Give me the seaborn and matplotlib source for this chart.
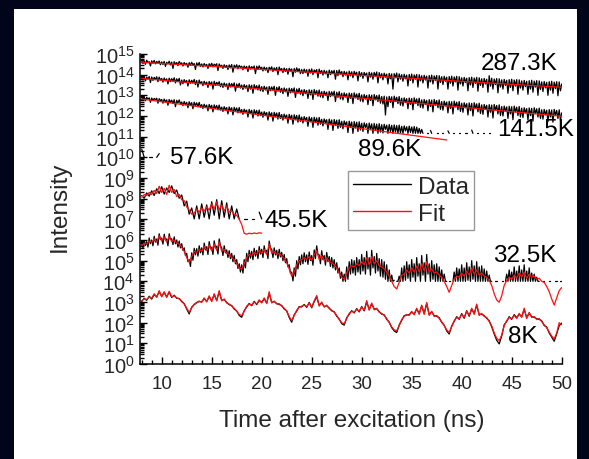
import numpy as np
import pandas as pd
import matplotlib
matplotlib.use("Agg")
import matplotlib.pyplot as plt
from matplotlib.lines import Line2D
from matplotlib.patches import Rectangle
from matplotlib.ticker import LogLocator, MultipleLocator, NullFormatter, FixedLocator
import seaborn as sns

nan = np.nan

# Time base of the recorded traces (ns)
T0 = 8.0
DT_FINE = 0.125   # densely recorded traces
DT = 0.25         # remaining traces and the oscillating fits

# log10(intensity), one sample every DT_FINE starting at T0
data_287 = [
    14.68, 14.54, 14.66, 14.50, 14.70, 14.58, 14.63, 14.42, 14.67, 14.55, 14.69, 14.52, 14.64, 14.57, 14.66, 14.48,
    14.62, 14.49, 14.64, 14.40, 14.60, 14.52, 14.65, 14.47, 14.61, 14.30, 14.63, 14.50, 14.59, 14.44, 14.64, 14.53,
    14.57, 14.42, 14.59, 14.48, 14.55, 14.36, 14.58, 14.45, 14.60, 14.47, 14.54, 14.25, 14.57, 14.44, 14.59, 14.40,
    14.52, 14.37, 14.54, 14.42, 14.50, 14.30, 14.53, 14.40, 14.55, 14.38, 14.51, 14.44, 14.53, 14.20, 14.52, 14.39,
    14.46, 14.30, 14.48, 14.36, 14.45, 14.25, 14.47, 14.33, 14.49, 14.12, 14.46, 14.34, 14.48, 14.28, 14.45, 14.35,
    14.41, 14.24, 14.42, 14.30, 14.40, 14.15, 14.43, 14.27, 14.39, 14.30, 14.42, 14.05, 14.41, 14.25, 14.43, 14.28,
    14.36, 14.18, 14.37, 14.22, 14.34, 14.10, 14.36, 14.24, 14.38, 14.15, 14.33, 14.20, 14.35, 14.00, 14.37, 14.21,
    14.30, 14.10, 14.32, 14.16, 14.29, 14.02, 14.31, 14.18, 14.28, 13.90, 14.30, 14.12, 14.33, 14.15, 14.29, 14.05,
    14.25, 14.05, 14.27, 14.10, 14.24, 13.92, 14.26, 14.08, 14.28, 14.00, 14.23, 14.12, 14.25, 13.85, 14.27, 14.06,
    14.20, 13.98, 14.21, 14.04, 14.18, 13.85, 14.22, 14.00, 14.19, 14.06, 14.21, 13.78, 14.20, 13.95, 14.23, 14.02,
    14.15, 13.90, 14.16, 13.98, 14.13, 13.75, 14.17, 13.94, 14.14, 13.85, 14.16, 14.00, 14.12, 13.70, 14.15, 13.92,
    14.10, 13.82, 14.11, 13.95, 14.08, 13.65, 14.12, 13.88, 14.09, 13.78, 14.11, 13.92, 14.13, 13.60, 14.10, 13.85,
    14.05, 13.75, 14.07, 13.88, 14.03, 13.55, 14.06, 13.80, 14.04, 13.30, 14.05, 13.85, 14.08, 13.65, 14.04, 13.78,
    14.00, 13.68, 14.02, 13.80, 13.98, 13.45, 14.01, 13.72, 14.03, 13.60, 13.99, 13.78, 14.01, 13.40, 14.00, 13.70,
    13.95, 13.60, 13.97, 13.74, 13.93, 13.35, 13.96, 13.65, 13.98, 13.55, 13.94, 13.72, 13.96, 13.30, 13.95, 13.62,
    13.90, 13.52, 13.92, 13.68, 13.88, 13.30, 13.91, 13.58, 13.93, 13.45, 13.89, 13.65, 13.92, 13.25, 13.90, 13.55,
    13.85, 13.45, 13.87, 13.62, 13.83, 13.22, 13.86, 13.50, 13.88, 13.38, 13.84, 13.58, 13.87, 13.20, 13.85, 13.48,
    13.80, 13.38, 13.82, 13.55, 13.78, 13.15, 13.95, 13.44, 13.83, 13.30, 13.79, 13.52, 13.81, 13.12, 13.80, 13.40,
    13.75, 13.30, 13.77, 13.48, 13.73, 13.10, 13.76, 13.38, 13.78, 13.22, 13.74, 13.45, 13.76, 13.05, 13.75, 13.35,
    13.70, 13.25, 13.72, 13.42, 13.68, 13.05, 13.71, 13.30, 13.73, 13.15, 13.69, 13.40, 13.71, 13.00, 13.70, 13.28,
    13.65, 13.18, 13.67, 13.36, 13.63, 13.00, 13.66, 13.25, 13.68, 13.10, 13.64, 13.33, 13.66, 12.98, 13.65, 13.22,
    13.55,
]

data_141 = [
    13.90, 13.74, 13.92, 13.70, 13.88, 13.78, 13.91, 13.62, 13.89, 13.72, 13.87, 13.76, 13.90, 13.66, 13.88, 13.73,
    13.82, 13.64, 13.84, 13.70, 13.80, 13.55, 13.83, 13.66, 13.81, 13.69, 13.85, 13.60, 13.80, 13.67, 13.82, 13.50,
    13.74, 13.56, 13.76, 13.62, 13.72, 13.45, 13.75, 13.58, 13.73, 13.60, 13.77, 13.52, 13.72, 13.40, 13.74, 13.57,
    13.66, 13.47, 13.68, 13.53, 13.64, 13.38, 13.67, 13.50, 13.65, 13.30, 13.68, 13.48, 13.63, 13.52, 13.66, 13.42,
    13.58, 13.38, 13.60, 13.44, 13.56, 13.28, 13.59, 13.40, 13.57, 13.43, 13.60, 13.20, 13.55, 13.38, 13.58, 13.35,
    13.50, 13.28, 13.52, 13.35, 13.48, 13.18, 13.51, 13.30, 13.49, 13.10, 13.52, 13.32, 13.47, 13.26, 13.50, 13.22,
    13.42, 13.18, 13.44, 13.26, 13.40, 13.05, 13.43, 13.22, 13.41, 13.25, 13.44, 13.00, 13.39, 13.20, 13.42, 13.15,
    13.34, 13.08, 13.36, 13.17, 13.32, 12.95, 13.35, 13.12, 13.33, 13.15, 13.36, 12.90, 13.31, 13.10, 13.34, 13.05,
    13.26, 12.98, 13.28, 13.08, 13.24, 12.85, 13.27, 13.02, 13.25, 12.80, 13.28, 13.05, 13.23, 12.96, 13.26, 12.92,
    13.18, 12.88, 13.20, 13.00, 13.16, 12.75, 13.19, 12.94, 13.17, 12.98, 13.20, 12.70, 13.15, 12.90, 13.18, 12.82,
    13.10, 12.78, 13.12, 12.92, 13.08, 12.65, 13.11, 12.85, 13.09, 12.60, 13.12, 12.88, 13.07, 12.80, 13.10, 12.72,
    13.02, 12.68, 13.04, 12.82, 13.00, 12.55, 13.03, 12.75, 13.01, 12.50, 13.04, 12.78, 12.99, 12.70, 13.02, 12.62,
    12.94, 12.58, 12.96, 12.05, 12.92, 12.45, 12.95, 12.66, 12.93, 12.40, 12.96, 12.70, 12.91, 12.60, 12.94, 12.52,
    12.86, 12.48, 12.88, 12.65, 12.84, 12.35, 12.87, 12.56, 12.85, 12.30, 12.88, 12.62, 12.83, 12.50, 12.86, 12.42,
    12.78, 12.38, 12.80, 12.56, 12.76, 12.25, 12.79, 12.46, 12.77, 12.20, 12.80, 12.52, 12.75, 12.40, 12.78, 12.32,
    12.70, 12.28, 12.72, 12.48, 12.68, 12.15, 12.71, 12.36, 12.69, 12.10, 12.72, 12.44, 12.67, 12.30, 12.70, 12.22,
    12.62, 12.18, 12.64, 12.40, 12.60, 12.05, 12.63, 12.26, 12.61, 12.00, 12.64, 12.36, 12.59, 12.20, 12.62, 12.12,
    12.54, 12.08, 12.56, 12.32, 12.52, 11.95, 12.55, 12.18, 12.53, 11.90, 12.56, 12.28, 12.51, 12.10, 12.54, 12.02,
    12.46, 12.00, 12.48, 12.24, 12.44, 11.88, 12.47, 12.10, 12.45, 11.82, 12.48, 12.20, 12.43, 12.02, 12.46, 11.95,
    12.38, 11.92, 12.40, 12.15, 12.36, 11.80, 12.39, 12.02, 12.37, 11.75, 12.40, 12.12, 12.35, 11.95, 12.38, 11.88,
    12.30, 11.85, 12.32, 12.06, 12.28, 11.72, 12.31, 11.95, 12.29, 11.70, 12.32, 12.04, 12.27, 11.88, 12.30, 11.80,
    12.15,
]

data_89 = [
    12.96, 12.80, 12.93, 12.74, 12.90, 12.82, 12.88, 12.66, 12.87, 12.75, 12.85, 12.78, 12.86, 12.62, 12.84, 12.74,
    12.80, 12.62, 12.82, 12.68, 12.78, 12.52, 12.80, 12.65, 12.77, 12.60, 12.79, 12.45, 12.76, 12.63, 12.78, 12.58,
    12.68, 12.50, 12.70, 12.55, 12.66, 12.40, 12.69, 12.52, 12.65, 12.35, 12.67, 12.50, 12.64, 12.45, 12.66, 12.42,
    12.55, 12.36, 12.57, 12.42, 12.53, 12.25, 12.56, 12.38, 12.52, 12.20, 12.54, 12.36, 12.51, 12.30, 12.53, 12.28,
    12.43, 12.22, 12.45, 12.30, 12.41, 12.10, 12.44, 12.25, 12.40, 12.05, 12.42, 12.24, 12.39, 12.15, 12.41, 12.16,
    12.31, 12.08, 12.33, 12.18, 12.29, 11.95, 12.32, 12.12, 12.28, 11.90, 12.30, 12.10, 12.27, 12.00, 12.29, 12.02,
    12.19, 11.94, 12.21, 12.05, 12.17, 11.80, 12.20, 11.98, 12.16, 11.75, 12.18, 11.96, 12.15, 11.85, 12.17, 11.88,
    12.07, 11.80, 12.09, 11.92, 12.05, 11.65, 12.08, 11.85, 12.04, 11.60, 12.06, 11.82, 12.03, 11.70, 12.05, 11.74,
    11.95, 11.66, 11.97, 11.80, 11.93, 11.50, 11.96, 11.72, 11.92, 11.45, 11.94, 11.68, 11.91, 11.55, 11.93, 11.60,
    11.84, 11.52, 11.86, 11.68, 11.82, 11.35, 11.85, 11.58, 11.81, 11.30, 11.83, 11.55, 11.80, 11.40, 11.82, 11.45,
    11.74, 11.38, 11.76, 11.56, 11.72, 11.20, 11.75, 11.45, 11.71, 11.16, 11.73, 11.42, 11.70, 11.25, 11.72, 11.32,
    11.65, 11.25, 11.67, 11.45, 11.63, 11.16, 11.66, 11.35, 11.62, 11.16, 11.64, 11.30, 11.61, 11.16, 11.63, 11.22,
    11.58, 11.18, 11.60, 11.35, 11.56, 11.16, 11.59, 11.25, 11.55, 11.16, 11.57, 11.22, 11.54, 11.16, 11.56, 11.18,
    11.50, 11.16, 11.52, 11.28, 11.48, 11.16, 11.51, 11.20, 11.47, 11.16, 11.49, 11.16, 11.46, 11.16, 11.40, 11.16,
    11.35, 11.16, nan, nan, 11.16, 11.16, nan, 11.30, 11.16, nan, nan, nan, 11.16, 11.16, nan, nan,
    11.16, 11.16, nan, nan, nan, 11.28, 11.16, nan, nan, 11.16, 11.16, nan, nan, nan, 11.16, 11.16,
    nan, nan, nan, 11.16, 11.16, nan, nan, nan, 11.32, 11.16, nan, nan, 11.16, 11.16, nan, nan,
    nan, 11.16, 11.16, nan, nan, nan, 11.16, 11.16,
]

data_32 = [
    5.85, 5.62, 5.98, 5.74, 5.92, 5.66, 6.10, 5.82, 6.00, 5.72, 6.18, 5.90, 6.05, 5.75, 6.30, 6.02,
    6.10, 5.80, 6.28, 6.00, 6.05, 5.72, 6.30, 6.02, 6.06, 5.78, 6.15, 5.82, 6.00, 5.66, 5.95, 5.62,
    5.82, 5.50, 5.62, 5.25, 5.35, 4.95, 5.05, 4.72, 5.38, 5.02, 5.60, 5.28, 5.58, 5.22, 5.72, 5.38,
    5.62, 5.28, 5.85, 5.52, 5.68, 5.30, 5.92, 5.58, 5.66, 5.30, 5.96, 5.62, 5.70, 5.32, 6.05, 5.72,
    5.62, 5.25, 5.72, 5.38, 5.52, 5.15, 5.48, 5.10, 5.35, 4.95, 5.25, 4.85, 5.05, 4.62, 4.85, 4.45,
    4.80, 4.40, 5.05, 4.65, 5.35, 4.95, 5.50, 5.12, 5.45, 5.05, 5.60, 5.22, 5.50, 5.10, 5.68, 5.32,
    5.55, 5.15, 5.72, 5.38, 5.50, 5.10, 5.95, 5.60, 5.55, 5.15, 5.62, 5.28, 5.50, 5.10, 5.55, 5.18,
    5.40, 5.00, 5.30, 4.90, 5.10, 4.70, 4.80, 4.40, 4.45, 4.02, 4.65, 4.25, 5.00, 4.60, 5.20, 4.80,
    5.28, 4.85, 5.38, 4.95, 5.28, 4.82, 5.42, 5.00, 5.25, 4.78, 5.52, 5.10, 5.72, 5.30, 5.28, 4.85,
    5.48, 5.05, 5.25, 4.78, 5.40, 4.95, 5.20, 4.72, 5.15, 4.65, 5.05, 4.55, 4.90, 4.40, 4.65, 4.15,
    4.45, 4.00, 4.35, 4.00, 4.70, 4.10, 4.95, 4.35, 5.05, 4.40, 5.00, 4.30, 5.15, 4.45, 5.05, 4.35,
    5.30, 4.50, 5.15, 4.35, 5.45, 4.60, 5.15, 4.30, 5.50, 4.65, 5.20, 4.40, 5.35, 4.50, 5.10, 4.25,
    5.05, 4.20, 4.95, 4.10, 4.80, 4.00, 4.55, 4.00, 4.30, 4.00, 4.05, nan, 4.00, 4.00, 4.25, 4.00,
    4.65, 4.00, 4.75, 4.05, 4.95, 4.15, 4.80, 4.00, 5.05, 4.20, 4.85, 4.00, 5.15, 4.25, 4.85, 4.00,
    5.25, 4.30, 4.90, 4.00, 5.30, 4.35, 4.85, 4.00, 5.00, 4.10, 4.80, 4.00, 4.85, 4.00, 4.70, 4.00,
    4.55, 4.00, 4.35, 4.00, 4.00, nan, 4.00, 4.00, nan, 4.00, 4.45, 4.00, 4.65, 4.00, 4.60, 4.00,
    4.80, 4.00, 4.65, 4.00, 4.90, 4.05, 4.70, 4.00, 5.00, 4.10, 4.75, 4.00, 4.95, 4.00, 4.70, 4.00,
    4.75, 4.00, 4.60, 4.00, 4.50, 4.00, 4.30, 4.00, 4.00, nan, nan, 4.00, 4.00, nan, nan, nan,
    4.00, 4.00, nan, 4.00, 4.35, 4.00, 4.55, 4.00, 4.45, 4.00, 4.70, 4.00, 4.50, 4.00, 4.75, 4.00,
    4.55, 4.00, 4.80, 4.00, 4.50, 4.00, 4.65, 4.00, 4.40, 4.00, 4.35, 4.00, 4.20, 4.00, 4.00, nan,
    nan, 4.00, 4.00, nan, nan, nan, 4.00, 4.00, nan, nan, nan, 4.00, 4.00, nan, nan, 4.00,
    4.00,
]

# log10(intensity), one sample every DT starting at T0
data_57 = [10.40, 10.00, nan, 10.00, 10.00, nan, 10.00, 10.18]

data_45 = [
    8.15, 8.02, 8.28, 8.12, 8.38, 8.15, 8.48, 8.25,
    8.58, 8.22, 8.52, 8.30, 8.62, 8.25, 8.42, 8.02,
    8.18, 7.65, 7.88, 7.25, 7.55, 7.02, 7.65, 7.02,
    7.75, 7.10, 7.70, 7.02, 7.85, 7.20, 7.95, 7.02,
    7.90, 7.10, 7.80, 7.02, 7.65, 7.02, 7.50, 7.02,
    nan, 7.02, 7.02, nan, 7.02, 7.02, nan, 7.35,
    7.02,
]

data_8 = [
    3.02, 3.18, 3.08, 3.28, 3.14, 3.36, 3.25, 3.50,
    3.28, 3.46, 3.25, 3.48, 3.22, 3.33, 3.18, 3.17,
    3.02, 2.92, 2.66, 2.42, 2.75, 2.87, 2.98, 3.02,
    3.01, 3.16, 3.03, 3.26, 3.05, 3.36, 3.08, 3.50,
    3.08, 3.12, 2.98, 2.87, 2.83, 2.66, 2.57, 2.35,
    2.26, 2.58, 2.76, 2.93, 2.82, 3.03, 2.87, 3.08,
    2.98, 3.16, 2.95, 3.42, 2.98, 3.02, 2.93, 2.88,
    2.83, 2.66, 2.58, 2.25, 2.02, 2.38, 2.56, 2.78,
    2.76, 2.88, 2.74, 2.98, 2.72, 3.02, 3.25, 2.84,
    2.96, 2.78, 2.82, 2.71, 2.57, 2.53, 2.31, 2.18,
    1.95, 1.88, 2.24, 2.41, 2.58, 2.47, 2.68, 2.52,
    2.78, 2.57, 3.00, 2.64, 2.91, 2.66, 2.67, 2.54,
    2.41, 2.38, 2.16, 2.03, 1.76, 1.60, 1.52, 1.89,
    2.12, 2.34, 2.37, 2.39, 2.51, 2.42, 2.66, 2.44,
    2.81, 2.44, 2.92, 2.39, 2.52, 2.34, 2.31, 2.24,
    2.01, 1.88, 1.60, 1.45, 1.84, 2.06, 2.29, 2.16,
    2.44, 2.21, 2.58, 2.31, 2.66, 2.44, 2.84, 2.39,
    2.41, 2.34, 2.21, 2.09, 1.80, 1.45, 1.15, 0.97,
    1.35, 1.90, 2.06, 2.29, 2.16, 2.39, 2.24, 2.41,
    2.29, 2.65, 2.24, 2.46, 2.29, 2.26, 2.19, 2.16,
    2.09, 1.86, 1.79, 1.50, 1.30, 1.10, 1.46, 1.85,
    1.98,
]

# Fitted curves (log10 intensity)
fit_287_t = [8.0, 50.0]
fit_287 = [14.60, 13.39]
fit_141_t = [8.0, 50.0]
fit_141 = [13.82, 11.99]
fit_89_t = [8.0, 38.5]
fit_89 = [12.82, 10.84]

fit_45 = [
    8.07, 8.20, 8.15, 8.30, 8.20, 8.40, 8.25, 8.60,
    8.30, 8.50, 8.20, 8.65, 8.30, 8.45, 8.10, 8.20,
    7.95, 7.90, 7.60, 7.45, 7.25, 7.30, 7.50, 7.35,
    7.55, 7.40, 7.60, 7.45, 7.75, 7.50, 7.85, 7.45,
    7.70, 7.40, 7.65, 7.35, 7.40, 7.25, 7.20, 7.00,
    6.75, 6.32, 6.28, 6.33, 6.30, 6.34, 6.31, 6.35,
    6.33,
]

fit_32 = [
    5.73, 5.85, 5.80, 5.95, 5.88, 6.05, 5.90, 6.20,
    5.95, 6.15, 5.90, 6.18, 5.92, 6.00, 5.85, 5.80,
    5.65, 5.45, 5.15, 4.92, 5.20, 5.45, 5.40, 5.55,
    5.45, 5.70, 5.50, 5.75, 5.48, 5.80, 5.50, 5.90,
    5.45, 5.55, 5.35, 5.30, 5.15, 5.05, 4.85, 4.65,
    4.60, 4.85, 5.15, 5.30, 5.25, 5.40, 5.30, 5.50,
    5.35, 5.55, 5.30, 5.80, 5.35, 5.45, 5.30, 5.35,
    5.20, 5.10, 4.90, 4.60, 4.25, 4.45, 4.80, 5.00,
    5.05, 5.15, 5.05, 5.20, 5.00, 5.30, 5.50, 5.05,
    5.25, 5.00, 5.15, 4.95, 4.90, 4.80, 4.65, 4.40,
    4.20, 4.10, 4.40, 4.65, 4.75, 4.70, 4.85, 4.75,
    4.95, 4.80, 5.15, 4.80, 5.20, 4.85, 5.00, 4.75,
    4.70, 4.60, 4.45, 4.25, 4.00, 3.75, 3.63, 3.95,
    4.30, 4.35, 4.55, 4.40, 4.65, 4.45, 4.75, 4.45,
    4.85, 4.50, 4.95, 4.45, 4.60, 4.40, 4.45, 4.30,
    4.20, 4.00, 3.75, 3.47, 3.80, 4.10, 4.25, 4.20,
    4.40, 4.25, 4.50, 4.30, 4.65, 4.35, 4.55, 4.30,
    4.40, 4.25, 4.20, 4.05, 3.80, 3.40, 3.10, 2.99,
    3.30, 3.80, 4.05, 4.20, 4.10, 4.30, 4.15, 4.40,
    4.20, 4.45, 4.15, 4.35, 4.20, 4.25, 4.10, 4.15,
    4.00, 3.95, 3.75, 3.50, 3.15, 2.85, 3.20, 3.55,
    3.70,
]

fit_8 = [
    3.07, 3.15, 3.12, 3.25, 3.18, 3.40, 3.22, 3.55,
    3.25, 3.50, 3.22, 3.52, 3.25, 3.30, 3.20, 3.15,
    3.05, 2.90, 2.70, 2.50, 2.72, 2.90, 2.95, 3.05,
    2.98, 3.20, 3.00, 3.30, 3.02, 3.40, 3.05, 3.55,
    3.05, 3.15, 2.95, 2.90, 2.80, 2.70, 2.55, 2.40,
    2.34, 2.55, 2.80, 2.90, 2.85, 3.00, 2.90, 3.10,
    2.95, 3.20, 2.92, 3.50, 2.95, 3.05, 2.90, 2.92,
    2.80, 2.70, 2.55, 2.30, 2.10, 2.35, 2.60, 2.75,
    2.80, 2.85, 2.78, 2.95, 2.75, 3.05, 3.31, 2.80,
    3.00, 2.75, 2.85, 2.68, 2.60, 2.50, 2.35, 2.15,
    2.00, 1.94, 2.20, 2.45, 2.55, 2.50, 2.65, 2.55,
    2.75, 2.60, 3.07, 2.60, 2.95, 2.62, 2.70, 2.50,
    2.45, 2.35, 2.20, 2.00, 1.80, 1.65, 1.61, 1.85,
    2.15, 2.30, 2.40, 2.35, 2.55, 2.38, 2.70, 2.40,
    2.85, 2.40, 2.98, 2.35, 2.55, 2.30, 2.35, 2.20,
    2.05, 1.85, 1.65, 1.53, 1.80, 2.10, 2.25, 2.20,
    2.40, 2.25, 2.55, 2.35, 2.70, 2.40, 2.90, 2.35,
    2.45, 2.30, 2.25, 2.05, 1.85, 1.50, 1.25, 1.13,
    1.40, 1.85, 2.10, 2.25, 2.20, 2.35, 2.20, 2.45,
    2.25, 2.70, 2.20, 2.50, 2.25, 2.30, 2.15, 2.20,
    2.05, 1.90, 1.75, 1.55, 1.35, 1.21, 1.50, 2.00,
    1.90,
]

temperatures = ["287.3K", "141.5K", "89.6K", "57.6K", "45.5K", "32.5K", "8K"]
x_ticks = [10, 15, 20, 25, 30, 35, 40, 45, 50]
y_decades = list(range(0, 16))


def sampled(logs, dt=DT):
    return T0 + dt * np.arange(len(logs))


def to_rows(name, kind, times, logs):
    """Long-form rows; a NaN sample starts a new line segment."""
    rows, seg, gap = [], 0, True
    for t, v in zip(times, logs):
        if v is None or np.isnan(v):
            gap = True
            continue
        if gap:
            seg += 1
            gap = False
        rows.append((float(t), 10.0 ** v, kind, f"{name}-{kind}-{seg}"))
    return rows


rows = []
for name, logs, dt in [("287.3K", data_287, DT_FINE), ("141.5K", data_141, DT_FINE),
                       ("89.6K", data_89, DT_FINE), ("57.6K", data_57, DT),
                       ("45.5K", data_45, DT), ("32.5K", data_32, DT_FINE), ("8K", data_8, DT)]:
    rows += to_rows(name, "Data", sampled(logs, dt), logs)
for name, times, logs in [("287.3K", fit_287_t, fit_287), ("141.5K", fit_141_t, fit_141),
                          ("89.6K", fit_89_t, fit_89), ("45.5K", sampled(fit_45), fit_45),
                          ("32.5K", sampled(fit_32), fit_32), ("8K", sampled(fit_8), fit_8)]:
    rows += to_rows(name, "Fit", times, logs)
df = pd.DataFrame(rows, columns=["time", "intensity", "kind", "unit"])

sns.set_theme(style="ticks")
plt.rcParams["font.family"] = ["Liberation Sans", "DejaVu Sans"]
plt.rcParams["mathtext.fontset"] = "custom"
plt.rcParams["mathtext.rm"] = "Liberation Sans"
plt.rcParams["mathtext.it"] = "Liberation Sans:italic"
plt.rcParams["mathtext.bf"] = "Liberation Sans:bold"

NAVY = "#02051a"
fig = plt.figure(figsize=(5.89, 4.60), dpi=100, facecolor=NAVY)
# white sheet behind the plot, leaving a dark frame on three sides
fig.patches.append(Rectangle((14 / 589, 0), (577 - 14) / 589, 450 / 460,
                             transform=fig.transFigure, facecolor="white",
                             edgecolor="none", zorder=-10))
ax = fig.add_axes([140 / 589, 1 - 365 / 460, 421.7 / 589, 310 / 460])
ax.set_zorder(1)
ax.patch.set_alpha(0)

sns.lineplot(data=df[df.kind == "Data"], x="time", y="intensity", units="unit",
             estimator=None, color="black", linewidth=0.9, legend=False, ax=ax)
sns.lineplot(data=df[df.kind == "Fit"], x="time", y="intensity", units="unit",
             estimator=None, color="#ff1010", linewidth=0.9, legend=False, ax=ax)

ax.set_yscale("log")
ax.set_xlim(7.83, 50)
ax.set_ylim(1, 1e15)
ax.yaxis.set_major_locator(FixedLocator([10.0 ** k for k in y_decades]))
ax.yaxis.set_minor_locator(LogLocator(base=10, subs=np.arange(2, 10), numticks=40))
ax.yaxis.set_minor_formatter(NullFormatter())
ax.set_xticks(x_ticks)
ax.xaxis.set_minor_locator(MultipleLocator(1))

for s in ("top", "right"):
    ax.spines[s].set_visible(False)
for s in ("left", "bottom"):
    ax.spines[s].set_linewidth(1.1)
    ax.spines[s].set_color("black")

ax.tick_params(which="both", direction="in", color="black", width=1.0)
ax.tick_params(which="major", length=5)
ax.tick_params(which="minor", length=3)
ax.tick_params(axis="y", which="major", labelsize=14.5, pad=4)
ax.tick_params(axis="x", which="major", labelsize=13.5, pad=8)

ax.set_xlabel("Time after excitation (ns)", fontsize=17.5)
ax.set_ylabel("Intensity", fontsize=17.5)
ax.xaxis.set_label_coords(0.5015, -0.145)
ax.yaxis.set_label_coords(-0.165, 0.51)

label_pos = {
    "287.3K": (49.6, 14.56, "right"),
    "141.5K": (43.5, 11.37, "left"),
    "89.6K": (29.6, 10.40, "left"),
    "57.6K": (10.8, 10.02, "left"),
    "45.5K": (20.3, 6.95, "left"),
    "32.5K": (43.1, 5.28, "left"),
    "8K": (44.6, 1.37, "left"),
}
for name in temperatures:
    x, y, ha = label_pos[name]
    ax.text(x, 10.0 ** y, name, fontsize=17.5, ha=ha, va="center",
            color="black", clip_on=False, zorder=5)

handles = [Line2D([], [], color="black", lw=1.0), Line2D([], [], color="#ff1010", lw=1.0)]
leg = ax.legend(handles, ["Data", "Fit"], loc="upper left",
                bbox_to_anchor=(0.493, 0.6226), borderaxespad=0, fontsize=17.5,
                frameon=True, fancybox=False, shadow=False, handlelength=2.4,
                handletextpad=0.3, borderpad=0.2, labelspacing=0.2)
leg.get_frame().set_edgecolor("#808080")
leg.get_frame().set_linewidth(1.0)

fig.savefig("out.png", dpi=100, facecolor=NAVY)
